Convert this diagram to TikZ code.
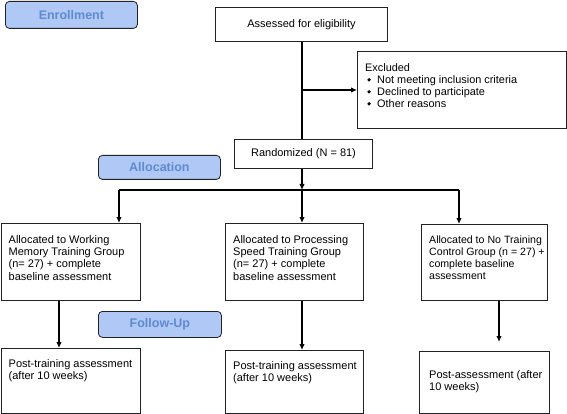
\documentclass[tikz,border=0pt]{standalone}
\usepackage{fontspec}
\setmainfont{Liberation Sans}
\usetikzlibrary{arrows.meta}
\definecolor{stagefill}{HTML}{B0C8F5}
\definecolor{stagetext}{HTML}{5E8AD0}
\definecolor{boxline}{HTML}{222222}
\tikzset{
  x=1pt,y=1pt,
  box/.style={draw=boxline, line width=1pt, anchor=north west, inner sep=0pt},
  txt/.style={anchor=north west, inner sep=0pt, align=left, font=\fontsize{11}{12.3}\selectfont},
  ctxt/.style={inner sep=0pt, font=\fontsize{11}{12.3}\selectfont},
  stage/.style={draw=boxline, line width=0.8pt, fill=stagefill, rounded corners=4pt, anchor=north west, inner sep=0pt,
     text=stagetext, font=\fontsize{12.5}{14}\selectfont\bfseries},
  conn/.style={line width=1.4pt, draw=black},
  arr/.style={conn, -{Latex[length=6pt,width=5.5pt]}}
}
\newcommand{\bulletmark}{\makebox[12pt][l]{\hspace{2pt}\raisebox{1.5pt}{\tikz\fill (0,1.8pt)--(1.8pt,0)--(0,-1.8pt)--(-1.8pt,0)--cycle;}}}
\begin{document}
\begin{tikzpicture}
\useasboundingbox (0,0) rectangle (567,-414);
% stage labels
\node[stage, minimum width=132, minimum height=27] (enr) at (5,-1) {Enrollment};
\node[stage, minimum width=122, minimum height=24] (alloc) at (98,-155) {Allocation};
\node[stage, minimum width=123, minimum height=26] (fu) at (98,-311) {Follow-Up};
% top boxes
\node[box, minimum width=172, minimum height=34] (assess) at (215,-7) {};
\node[ctxt] (assesst) at (assess.center) {Assessed for eligibility};
\node[box, minimum width=138, minimum height=29] (rand) at (234,-139) {};
\node[ctxt] (randt) at (rand.center) {Randomized (N = 81)};
\node[box, minimum width=209, minimum height=77] (excl) at (357,-51) {};
\node[txt, font=\fontsize{10.9}{12}\selectfont] (exclt) at ([shift={(8,-12)}]excl.north west) {Excluded\\
  \bulletmark Not meeting inclusion criteria\\
  \bulletmark Declined to participate\\
  \bulletmark Other reasons};
% allocation boxes
\node[box, minimum width=139.5, minimum height=77] (wm) at (0.5,-223) {};
\node[txt] (wmt) at ([shift={(8,-12)}]wm.north west) {Allocated to Working\\Memory Training Group\\(n= 27) + complete\\baseline assessment};
\node[box, minimum width=138, minimum height=77] (ps) at (225,-223) {};
\node[txt] (pst) at ([shift={(8,-12)}]ps.north west) {Allocated to Processing\\Speed Training Group\\(n= 27) + complete\\baseline assessment};
\node[box, minimum width=126, minimum height=76] (nt) at (421,-224) {};
\node[txt, font=\fontsize{10.6}{11.8}\selectfont] (ntt) at ([shift={(8,-12)}]nt.north west) {Allocated to No Training\\Control Group (n = 27) +\\complete baseline\\assessment};
% follow-up boxes
\node[box, minimum width=139.5, minimum height=65] (wmf) at (0.5,-348) {};
\node[txt] (wmft) at ([shift={(8,-11)}]wmf.north west) {Post-training assessment\\(after 10 weeks)};
\node[box, minimum width=138, minimum height=63] (psf) at (225,-350) {};
\node[txt] (psft) at ([shift={(8,-11)}]psf.north west) {Post-training assessment\\(after 10 weeks)};
\node[box, minimum width=130, minimum height=62] (ntf) at (419,-351) {};
\node[txt] (ntft) at ([shift={(10,-19)}]ntf.north west) {Post-assessment (after\\10 weeks)};
% coordinates
\coordinate (split) at (302,-90);
\coordinate (bar) at (302,-190);
\coordinate (barL) at (119,-190);
\coordinate (barR) at (459,-190);
\coordinate (ntend) at (499,-342);
% connectors
\draw[conn] (assess.south -| split) -- (rand.north -| split);
\draw[arr] (split) -- (split -| excl.west);
\draw[arr] (rand.south -| bar) -- (bar);
\draw[conn] (barL) -- (barR);
\draw[arr] (barL) -- (barL |- wm.north);
\draw[arr] (bar) -- (bar |- ps.north);
\draw[arr] (barR) -- (barR |- nt.north);
\draw[arr] (wm.south -| 59,0) -- (wmf.north -| 59,0);
\draw[arr] (ps.south -| bar) -- (psf.north -| bar);
\draw[arr] (nt.south -| ntend) -- (ntend);
\end{tikzpicture}
\end{document}
